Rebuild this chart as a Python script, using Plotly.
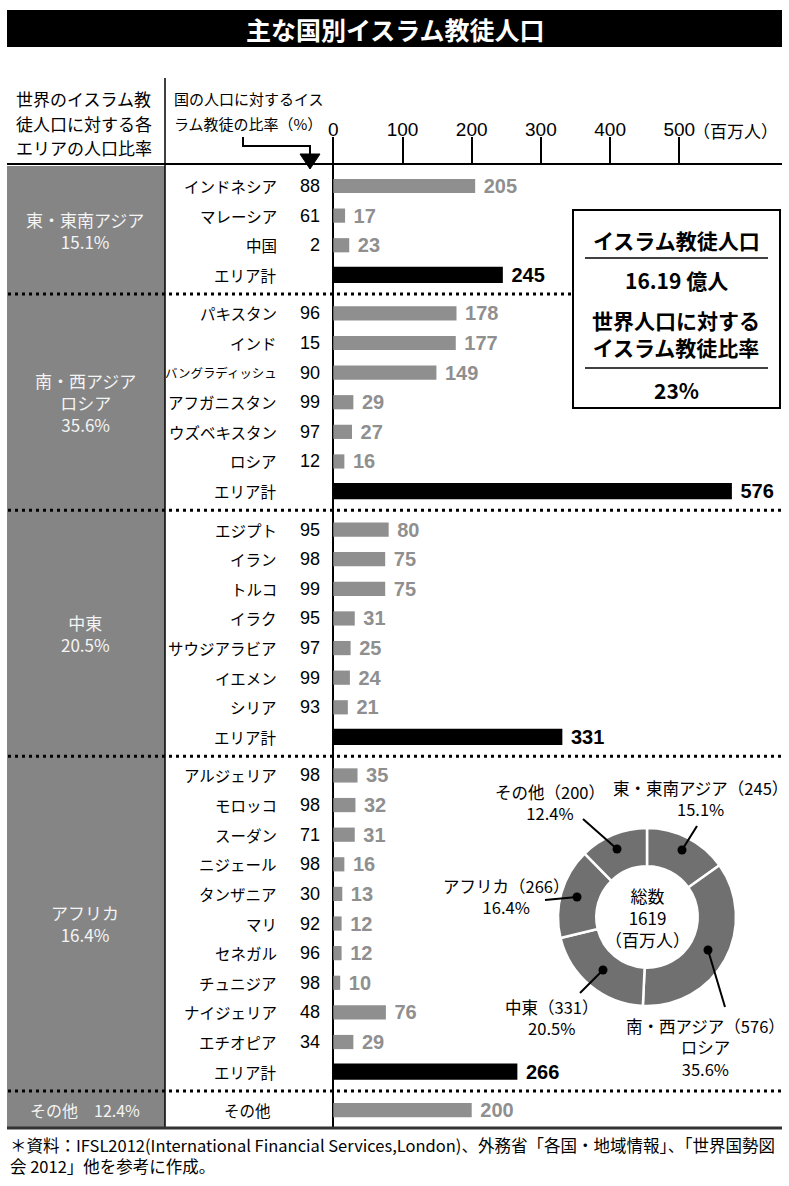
import plotly.graph_objects as go

# ---------------- data ----------------
east_countries = ["インドネシア", "マレーシア", "中国"]
east_pct = [88, 61, 2]
east_vals = [205, 17, 23]
east_total = 245

south_countries = ["パキスタン", "インド", "バングラディッシュ", "アフガニスタン", "ウズベキスタン", "ロシア"]
south_pct = [96, 15, 90, 99, 97, 12]
south_vals = [178, 177, 149, 29, 27, 16]
south_total = 576

me_countries = ["エジプト", "イラン", "トルコ", "イラク", "サウジアラビア", "イエメン", "シリア"]
me_pct = [95, 98, 99, 95, 97, 99, 93]
me_vals = [80, 75, 75, 31, 25, 24, 21]
me_total = 331

africa_countries = ["アルジェリア", "モロッコ", "スーダン", "ニジェール", "タンザニア", "マリ",
                    "セネガル", "チュニジア", "ナイジェリア", "エチオピア"]
africa_pct = [98, 98, 71, 98, 30, 92, 96, 98, 48, 34]
africa_vals = [35, 32, 31, 16, 13, 12, 12, 10, 76, 29]
africa_total = 266

other_name = "その他"
other_val = 200

region_labels = ["東・東南アジア<br>15.1%", "南・西アジア<br>ロシア<br>35.6%", "中東<br>20.5%", "アフリカ<br>16.4%"]
other_region_label = "その他　12.4%"

donut_labels = ["東・東南アジア", "南・西アジア ロシア", "中東", "アフリカ", "その他"]
donut_vals = [east_total, south_total, me_total, africa_total, other_val]
donut_text = ["東・東南アジア（245）<br>15.1%", "南・西アジア（576）<br>ロシア<br>35.6%",
              "中東（331）<br>20.5%", "アフリカ（266）<br>16.4%", "その他（200）<br>12.4%"]

tick_vals = [0, 100, 200, 300, 400, 500]
tick_text = ["0", "100", "200", "300", "400", "500"]

header_left = ["世界のイスラム教", "徒人口に対する各", "エリアの人口比率"]
header_mid = ["国の人口に対するイス", "ラム教徒の比率（%）"]

# ---------------- layout helpers ----------------
W, H = 789, 1186
PL, PR, PT, PB = 7, 782, 165, 1128
ROW0, PITCH = 186, 29.62
ZERO_PX, SCALE = 333.3, 0.692

def px(x):
    return (x - PL) / (PR - PL)

def py(y):
    return (PB - y) / (PB - PT)

JP = "Noto Sans CJK JP"
NUM = "Liberation Sans"
NARROW = "Liberation Sans Narrow, Liberation Sans"

groups = [
    (east_countries, east_pct, east_vals, east_total),
    (south_countries, south_pct, south_vals, south_total),
    (me_countries, me_pct, me_vals, me_total),
    (africa_countries, africa_pct, africa_vals, africa_total),
]

GAP = 1.3
pos = 0.0
c_y, c_x, c_names, c_pct = [], [], [], []
t_y, t_x = [], []
group_centers, separators = [], []
for names, pcts, vals, total in groups:
    ys = [pos + i for i in range(len(names))]
    ty = pos + len(names)
    c_y += ys
    c_x += vals
    c_names += names
    c_pct += pcts
    t_y.append(ty)
    t_x.append(total)
    group_centers.append((ys[0] + ty) / 2)
    separators.append(ty + GAP / 2)
    pos = ty + GAP
other_y = pos

y_top = (PT - ROW0) / PITCH
y_bot = (PB - ROW0) / PITCH
x_min = -(ZERO_PX - PL) / SCALE
x_max = (PR - ZERO_PX) / SCALE

fig = go.Figure()

fig.add_trace(go.Bar(
    x=c_x + [other_val], y=c_y + [other_y], orientation="h",
    marker=dict(color="#8f8f8f", line=dict(width=0)), width=0.48,
    texttemplate="\u00a0%{x}", textposition="outside", constraintext="none",
    textfont=dict(family=NUM, size=20, color="#8f8f8f", weight="bold"),
    cliponaxis=False, hoverinfo="skip", showlegend=False))

fig.add_trace(go.Bar(
    x=t_x, y=t_y, orientation="h",
    marker=dict(color="#000000", line=dict(width=0)), width=0.55,
    texttemplate="\u00a0%{x}", textposition="outside", constraintext="none",
    textfont=dict(family=NUM, size=20, color="#000000", weight="bold"),
    cliponaxis=False, hoverinfo="skip", showlegend=False))

# donut
d_cx, d_cy, d_r = 647, 917, 89
fig.add_trace(go.Pie(
    values=donut_vals, labels=donut_labels, sort=False, direction="clockwise",
    rotation=0, hole=0.57, textinfo="none", hoverinfo="skip", showlegend=False,
    marker=dict(colors=["#707070"] * 5, line=dict(color="white", width=2.5)),
    domain=dict(x=[px(d_cx - d_r), px(d_cx + d_r)], y=[py(d_cy + d_r), py(d_cy - d_r)])))

shapes = []
# title bar
shapes.append(dict(type="rect", xref="paper", yref="paper", x0=px(7), x1=px(782), y0=py(47), y1=py(10),
                   fillcolor="black", line=dict(width=0), layer="below"))
# gray column
shapes.append(dict(type="rect", xref="paper", yref="paper", x0=px(7), x1=px(165), y0=py(PB), y1=py(166),
                   fillcolor="#858585", line=dict(width=0), layer="below"))
# column divider
shapes.append(dict(type="line", xref="paper", yref="paper", x0=px(165), x1=px(165), y0=py(78), y1=py(PB),
                   line=dict(color="black", width=1.5), layer="above"))
# dotted separators
for s in separators:
    shapes.append(dict(type="line", xref="paper", yref="y", x0=px(8), x1=px(781), y0=s, y1=s,
                       line=dict(color="black", width=3, dash="3px,4px"), layer="above"))
# bottom line
shapes.append(dict(type="line", xref="paper", yref="paper", x0=px(7), x1=px(782), y0=py(PB), y1=py(PB),
                   line=dict(color="#333333", width=3), layer="above"))
# header arrow
path = "M {} {} L {} {} L {} {} L {} {}".format(px(243), py(137), px(243), py(146), px(310), py(146), px(310), py(155))
shapes.append(dict(type="path", xref="paper", yref="paper", path=path,
                   line=dict(color="black", width=2), layer="above"))
tri = "M {} {} L {} {} L {} {} Z".format(px(300), py(154), px(320), py(154), px(310), py(169))
shapes.append(dict(type="path", xref="paper", yref="paper", path=tri, fillcolor="black",
                   line=dict(color="black", width=1), layer="above"))
# info box
shapes.append(dict(type="rect", xref="paper", yref="paper", x0=px(573), x1=px(780), y0=py(408), y1=py(210),
                   fillcolor="white", line=dict(color="black", width=2), layer="above"))
for yy in (258, 368):
    shapes.append(dict(type="line", xref="paper", yref="paper", x0=px(585), x1=px(768), y0=py(yy), y1=py(yy),
                       line=dict(color="black", width=1.5), layer="above"))
# donut leader lines and dots
leaders = [((583, 819), (617, 849)), ((697, 826), (682, 850)), ((545, 900), (577, 897)),
           ((580, 993), (603, 970)), ((725, 1007), (708, 950))]
for (x0, y0), (x1, y1) in leaders:
    shapes.append(dict(type="line", xref="paper", yref="paper", x0=px(x0), y0=py(y0), x1=px(x1), y1=py(y1),
                       line=dict(color="black", width=2), layer="above"))
    shapes.append(dict(type="circle", xref="paper", yref="paper", x0=px(x1 - 4.5), x1=px(x1 + 4.5),
                       y0=py(y1 + 4.5), y1=py(y1 - 4.5), fillcolor="black", line=dict(width=0), layer="above"))

ann = []
def A(text, x, y, size=15, color="black", family=JP, xanchor="center", yref="paper", bold=False, align="center"):
    ann.append(dict(text=text, x=x, y=y, xref="paper", yref=yref, xanchor=xanchor, yanchor="middle",
                    showarrow=False, align=align,
                    font=dict(family=family, size=size, color=color, weight="bold" if bold else "normal")))

A("主な国別イスラム教徒人口", px(395), py(29), size=25, color="white", bold=True)
for line, yy in zip(header_left, (98, 123, 147)):
    A(line, px(14), py(yy), size=17, xanchor="left")
for line, yy in zip(header_mid, (99, 123)):
    A(line, px(172), py(yy), size=15, xanchor="left")
ann.append(dict(text="（百万人）", x=500, y=py(131), xref="x", yref="paper", xanchor="left", yanchor="middle",
                xshift=12, showarrow=False, font=dict(family=JP, size=17, color="black")))

for name, pct, yy in zip(c_names, c_pct, c_y):
    A(name, px(279), yy, size=min(15.5, 112 / len(name)), xanchor="right", yref="y")
    A(str(pct), px(322), yy, size=18, family=NUM, xanchor="right", yref="y")
for yy in t_y:
    A("エリア計", px(279), yy, size=15.5, xanchor="right", yref="y")
A(other_name, px(247), other_y, size=15.5, yref="y")

for lab, yc in zip(region_labels, group_centers):
    A(lab, px(85), yc, size=17, color="#f4f4f4", yref="y")
A(other_region_label, px(85), other_y, size=16, color="#f4f4f4", yref="y")

# info box text
A("イスラム教徒人口", px(676), py(240), size=21, bold=True)
A("16.19 億人", px(676), py(280), size=21, bold=True)
A("世界人口に対する<br>イスラム教徒比率", px(676), py(333), size=21, bold=True)
A("23%", px(676), py(390), size=21, bold=True)

# donut texts
A("総数<br>1619<br>（百万人）", px(d_cx), py(d_cy), size=17)
donut_pos = [(700, 799), (705, 1047), (551, 1017), (506, 896), (550, 802)]
for t, (x, y) in zip(donut_text, donut_pos):
    A(t, px(x), py(y), size=16.5)

# footnote
A("＊資料：IFSL2012(International Financial Services,London)、外務省「各国・地域情報」、「世界国勢図<br>会 2012」他を参考に作成。",
  px(8), py(1155), size=16.5, xanchor="left", align="left")

fig.update_layout(
    width=W, height=H, margin=dict(l=PL, r=W - PR, t=PT, b=H - PB),
    paper_bgcolor="white", plot_bgcolor="white", barmode="overlay",
    shapes=shapes, annotations=ann,
    xaxis=dict(range=[x_min, x_max], side="top", showline=True, linecolor="black", linewidth=2,
               ticks="outside", ticklen=26, tickwidth=1.5, tickcolor="black", ticklabelstandoff=-7,
               tickvals=tick_vals, ticktext=tick_text, tickfont=dict(family=NARROW, size=19, color="black"),
               showgrid=False, zeroline=True, zerolinecolor="black", zerolinewidth=1.5, fixedrange=True),
    yaxis=dict(range=[y_bot, y_top], visible=False, fixedrange=True),
)

fig.write_html("out.html", config={"displayModeBar": False},
               post_script="document.body.style.margin='0';document.body.style.overflow='hidden';")
